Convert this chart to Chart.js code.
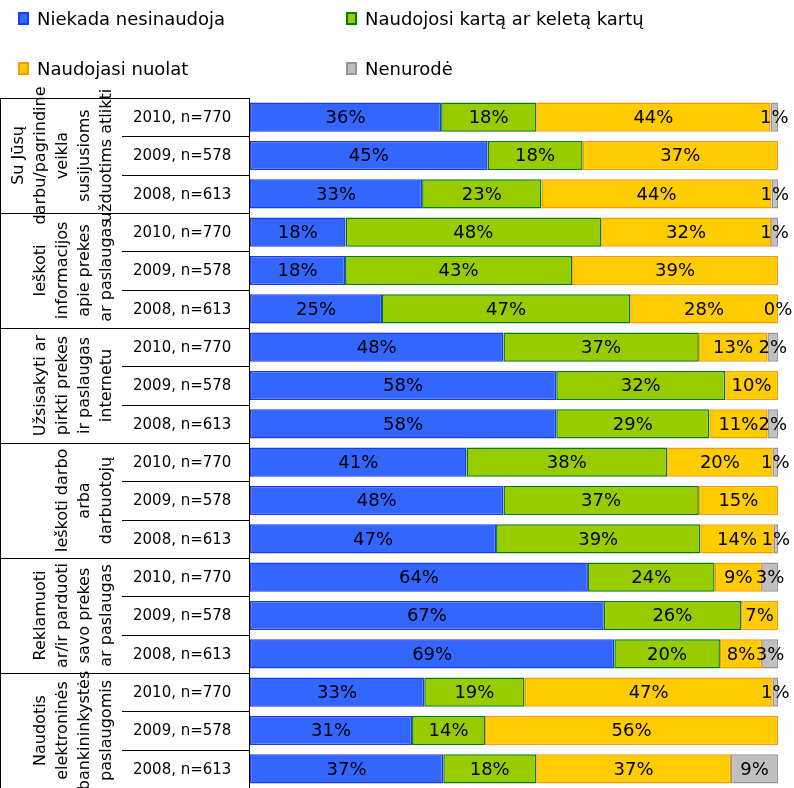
<!DOCTYPE html>
<html>
<head>
<meta charset="utf-8">
<script src="https://cdn.jsdelivr.net/npm/chart.js@4.4.1/dist/chart.umd.min.js"></script>
<style>
  html, body { margin: 0; padding: 0; background: #fff; }
  #wrap { position: relative; width: 794px; height: 788px; overflow: hidden; }
  #legend { position: absolute; left: 0; top: 0; width: 794px; height: 96px; font-family: "DejaVu Sans"; font-size: 18px; color: #000; }
  .item { position: absolute; display: flex; align-items: center; white-space: nowrap; }
  .box { width: 11px; height: 13px; margin-right: 8px; box-sizing: border-box; border: 2px solid; }
</style>
</head>
<body>
<div id="wrap">
  <canvas id="myChart" width="794" height="788"></canvas>
  <div id="legend"></div>
</div>
<script>
// row labels
const years = ['2010, n=770', '2009, n=578', '2008, n=613'];
const groups = [
  ['Su Jūsų', 'darbu/pagrindine', 'veikla', 'susijusioms', 'užduotims atlikti'],
  ['Ieškoti', 'informacijos', 'apie prekes', 'ar paslaugas'],
  ['Užsisakyti ar', 'pirkti prekes', 'ir paslaugas', 'internetu'],
  ['Ieškoti darbo', 'arba', 'darbuotojų'],
  ['Reklamuoti', 'ar/ir parduoti', 'savo prekes', 'ar paslaugas'],
  ['Naudotis', 'elektroninės', 'bankininkystės', 'paslaugomis']
];

// series values, top to bottom (2010, 2009, 2008 per group)
// where printed labels don't add up to 100 the bar lengths were read off the picture
const never    = [36.2, 45, 32.6, 18.1, 18, 25, 48, 58, 58, 41, 48, 46.6, 64, 67, 69, 33, 30.7, 36.6];
const once     = [18, 18, 22.6, 48.4, 43, 47, 37, 32, 29, 38, 37, 38.7, 24, 26, 20, 19, 13.8, 17.6];
const constant = [44.4, 37, 43.6, 32.2, 39, 28, 13, 10, 11, 20, 15, 13.9, 9, 7, 8, 47, 55.5, 36.9];
const noAnswer = [1.4, null, 1.2, 1.3, null, 0, 2, null, 2, 1, null, 0.8, 3, null, 3, 1, null, 8.9];

const seriesNames = ['Niekada nesinaudoja', 'Naudojosi kartą ar keletą kartų', 'Naudojasi nuolat', 'Nenurodė'];
const fills   = ['#3366ff', '#99cc00', '#ffcc00', '#c0c0c0'];
const borders = ['#1a3cf0', '#008000', '#ff9900', '#969696'];

const rowLabels = [];
groups.forEach(function (g, gi) {
  years.forEach(function (y) { rowLabels.push(gi + '|' + y); });
});

// legend, 2 columns
const legendPos = [[18, 19], [346, 19], [18, 69], [346, 69]];
const legendEl = document.getElementById('legend');
seriesNames.forEach(function (name, i) {
  const it = document.createElement('div');
  it.className = 'item';
  it.style.left = legendPos[i][0] + 'px';
  it.style.top = (legendPos[i][1] - 11) + 'px';
  it.innerHTML = '<span class="box" style="background:' + fills[i] + ';border-color:' + borders[i] + '"></span>' + name;
  legendEl.appendChild(it);
});

const barLabels = {
  id: 'barLabels',
  afterDatasetsDraw(chart) {
    const ctx = chart.ctx;
    ctx.save();
    ctx.font = '18px "DejaVu Sans"';
    ctx.fillStyle = '#000';
    ctx.textAlign = 'center';
    ctx.textBaseline = 'middle';
    chart.data.datasets.forEach(function (ds, di) {
      chart.getDatasetMeta(di).data.forEach(function (bar, i) {
        const v = ds.data[i];
        if (v === null || v === undefined) return;
        ctx.fillText(Math.round(v) + '%', (bar.x + bar.base) / 2, bar.y + 1);
      });
    });
    ctx.restore();
  }
};

const sideTable = {
  id: 'sideTable',
  afterDraw(chart) {
    const ctx = chart.ctx;
    const area = chart.chartArea;
    const rowH = (area.bottom - area.top) / rowLabels.length;
    const right = 249.5;
    ctx.save();
    ctx.strokeStyle = '#000';
    ctx.lineWidth = 1;
    ctx.beginPath();
    ctx.moveTo(0.5, area.top); ctx.lineTo(0.5, area.bottom);
    ctx.moveTo(right, area.top); ctx.lineTo(right, area.bottom);
    rowLabels.forEach(function (lab, i) {
      const y = Math.round(area.top + i * rowH) + 0.5;
      if (i % 3 === 0) { ctx.moveTo(0, y); ctx.lineTo(right, y); }
      else { ctx.moveTo(122, y); ctx.lineTo(right, y); }
    });
    ctx.stroke();

    ctx.fillStyle = '#000';
    ctx.font = '15px "DejaVu Sans"';
    ctx.textAlign = 'left';
    ctx.textBaseline = 'middle';
    rowLabels.forEach(function (lab, i) {
      ctx.fillText(lab.split('|')[1], 133, area.top + (i + 0.5) * rowH + 1);
    });

    ctx.font = '16px "DejaVu Sans"';
    ctx.textAlign = 'center';
    groups.forEach(function (lines, gi) {
      const cy = area.top + (gi * 3 + 1.5) * rowH;
      lines.forEach(function (t, li) {
        const x = 107 - (lines.length - 1 - li) * 22;
        ctx.save();
        ctx.translate(x, cy);
        ctx.rotate(-Math.PI / 2);
        ctx.fillText(t, 0, 0);
        ctx.restore();
      });
    });
    ctx.restore();
  }
};

const seriesData = [never, once, constant, noAnswer];
const ctx = document.getElementById('myChart').getContext('2d');
const myChart = new Chart(ctx, {
  type: 'bar',
  data: {
    labels: rowLabels,
    datasets: seriesData.map(function (d, i) {
      return {
        label: seriesNames[i],
        data: d,
        backgroundColor: fills[i],
        borderColor: borders[i],
        borderWidth: 1.5,
        borderSkipped: false,
        categoryPercentage: 1,
        barPercentage: 0.76
      };
    })
  },
  options: {
    indexAxis: 'y',
    responsive: false,
    animation: false,
    layout: { padding: { top: 98, right: 16, left: 0, bottom: 0 } },
    plugins: { legend: { display: false }, tooltip: { enabled: false } },
    scales: {
      x: { stacked: true, min: 0, max: 100, display: false },
      y: {
        stacked: true,
        grid: { display: false },
        border: { display: false },
        ticks: { display: false },
        afterFit: function (s) { s.width = 250; }
      }
    }
  },
  plugins: [barLabels, sideTable]
});
</script>
</body>
</html>
